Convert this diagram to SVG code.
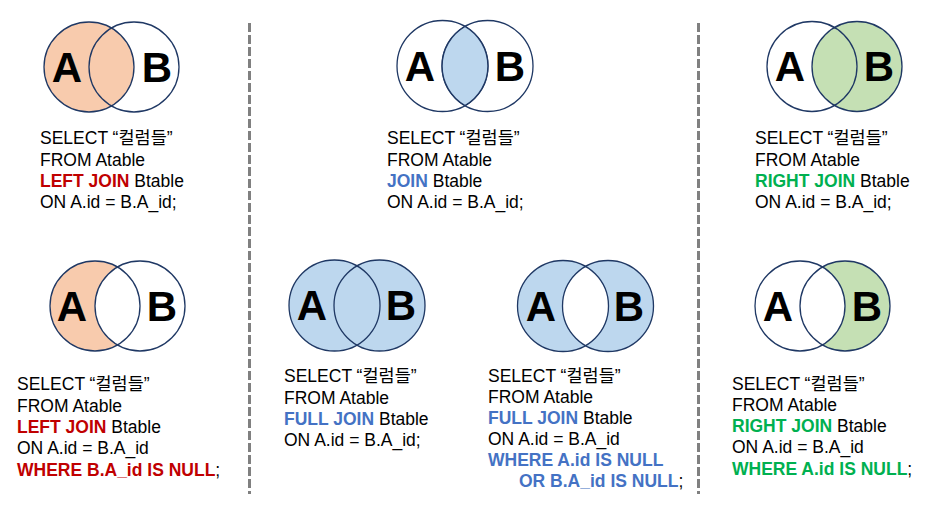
<svg xmlns="http://www.w3.org/2000/svg" width="935" height="524" viewBox="0 0 935 524">
<style>
.c{fill:none;stroke:#1F3864;stroke-width:1.3}
.w{fill:#ffffff;stroke:#1F3864;stroke-width:1.3}
.peach{fill:#F8CBAD}
.blue{fill:#BDD7EE}
.green{fill:#C5E0B4}
.big{font-family:"Liberation Sans",Arial,sans-serif;font-weight:bold;font-size:42px;fill:#000;text-anchor:middle}
.sql{font-family:"Liberation Sans",Arial,"Noto Sans CJK KR",sans-serif;font-size:17.5px;fill:#000}
.k{font-weight:bold}
.red{fill:#C00000}
.bl{fill:#4472C4}
.gr{fill:#00B050}
.dash{stroke:#808080;stroke-width:3;stroke-dasharray:9 3;fill:none}
</style>
<rect width="935" height="524" fill="#ffffff"/>
<g id="dividers">
<line class="dash" x1="249.5" y1="23" x2="249.5" y2="494"/>
<line class="dash" x1="698.5" y1="23" x2="698.5" y2="494"/>
</g>
<g id="left-join">
<circle class="peach" cx="89" cy="67" r="45"/>
<circle class="c" cx="134" cy="67" r="45"/>
<circle class="c" cx="89" cy="67" r="45"/>
<text class="big" x="67" y="82">A</text>
<text class="big" x="157" y="82">B</text>
<text class="sql" x="40" y="144">SELECT “컬럼들”</text>
<text class="sql" x="40" y="166">FROM Atable</text>
<text class="sql" x="40" y="187"><tspan class="k red">LEFT JOIN</tspan> Btable</text>
<text class="sql" x="40" y="208">ON A.id = B.A_id;</text>
</g>
<g id="inner-join">
<circle class="c" cx="442.5" cy="66" r="45.5"/>
<circle class="c" cx="487.5" cy="66" r="45.5"/>
<path class="blue" stroke="#1F3864" stroke-width="1.3" d="M465,26.5 A45.5,45.5 0 0 1 465,105.5 A45.5,45.5 0 0 1 465,26.5 Z"/>
<text class="big" x="420" y="81">A</text>
<text class="big" x="510" y="81">B</text>
<text class="sql" x="387" y="144">SELECT “컬럼들”</text>
<text class="sql" x="387" y="166">FROM Atable</text>
<text class="sql" x="387" y="187"><tspan class="k bl">JOIN</tspan> Btable</text>
<text class="sql" x="387" y="208">ON A.id = B.A_id;</text>
</g>
<g id="right-join">
<circle class="green" cx="857" cy="66.5" r="45"/>
<circle class="c" cx="812" cy="66.5" r="45"/>
<circle class="c" cx="857" cy="66.5" r="45"/>
<text class="big" x="790" y="81">A</text>
<text class="big" x="879" y="81">B</text>
<text class="sql" x="755" y="144">SELECT “컬럼들”</text>
<text class="sql" x="755" y="166">FROM Atable</text>
<text class="sql" x="755" y="187"><tspan class="k gr">RIGHT JOIN</tspan> Btable</text>
<text class="sql" x="755" y="208">ON A.id = B.A_id;</text>
</g>
<g id="left-only">
<circle class="peach" cx="95" cy="306" r="45"/>
<circle class="w" cx="140" cy="306" r="45"/>
<circle class="c" cx="95" cy="306" r="45"/>
<text class="big" x="72" y="321">A</text>
<text class="big" x="162" y="321">B</text>
<text class="sql" x="17" y="390">SELECT “컬럼들”</text>
<text class="sql" x="17" y="412">FROM Atable</text>
<text class="sql" x="17" y="433"><tspan class="k red">LEFT JOIN</tspan> Btable</text>
<text class="sql" x="17" y="454">ON A.id = B.A_id</text>
<text class="sql" x="17" y="476"><tspan class="k red">WHERE B.A_id IS NULL</tspan>;</text>
</g>
<g id="full-join">
<circle class="blue" cx="334.5" cy="305.5" r="45.5"/>
<circle class="blue" cx="379.5" cy="305.5" r="45.5"/>
<circle class="c" cx="334.5" cy="305.5" r="45.5"/>
<circle class="c" cx="379.5" cy="305.5" r="45.5"/>
<text class="big" x="312" y="320">A</text>
<text class="big" x="401" y="320">B</text>
<text class="sql" x="284" y="382">SELECT “컬럼들”</text>
<text class="sql" x="284" y="404">FROM Atable</text>
<text class="sql" x="284" y="425"><tspan class="k bl">FULL JOIN</tspan> Btable</text>
<text class="sql" x="284" y="446">ON A.id = B.A_id;</text>
</g>
<g id="full-outer-exclusive">
<circle class="blue" cx="563" cy="306" r="45.5"/>
<circle class="blue" cx="608" cy="306" r="45.5"/>
<path fill="#ffffff" d="M585.5,266.5 A45.5,45.5 0 0 1 585.5,345.5 A45.5,45.5 0 0 1 585.5,266.5 Z"/>
<circle class="c" cx="563" cy="306" r="45.5"/>
<circle class="c" cx="608" cy="306" r="45.5"/>
<text class="big" x="541" y="321">A</text>
<text class="big" x="629" y="321">B</text>
<text class="sql" x="488" y="382">SELECT “컬럼들”</text>
<text class="sql" x="488" y="403">FROM Atable</text>
<text class="sql" x="488" y="424"><tspan class="k bl">FULL JOIN</tspan> Btable</text>
<text class="sql" x="488" y="445">ON A.id = B.A_id</text>
<text class="sql" x="488" y="466"><tspan class="k bl">WHERE A.id IS NULL</tspan></text>
<text class="sql" x="519" y="487"><tspan class="k bl">OR B.A_id IS NULL</tspan>;</text>
</g>
<g id="right-only">
<circle class="green" cx="845" cy="306" r="45"/>
<circle class="w" cx="800" cy="306" r="45"/>
<circle class="c" cx="845" cy="306" r="45"/>
<text class="big" x="778" y="321">A</text>
<text class="big" x="867" y="321">B</text>
<text class="sql" x="732" y="390">SELECT “컬럼들”</text>
<text class="sql" x="732" y="411">FROM Atable</text>
<text class="sql" x="732" y="432"><tspan class="k gr">RIGHT JOIN</tspan> Btable</text>
<text class="sql" x="732" y="453">ON A.id = B.A_id</text>
<text class="sql" x="732" y="475"><tspan class="k gr">WHERE A.id IS NULL</tspan>;</text>
</g>
</svg>
